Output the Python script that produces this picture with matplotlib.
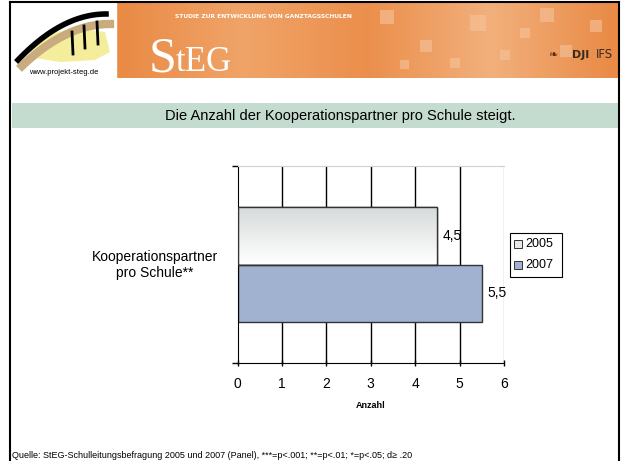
import numpy as np
import matplotlib
matplotlib.use("Agg")
import matplotlib.pyplot as plt
from matplotlib.colors import LinearSegmentedColormap
from matplotlib.patches import Rectangle, Polygon

# ---- data ----
category = "Kooperationspartner\npro Schule**"
years = ["2005", "2007"]
values = [4.5, 5.5]
value_labels = ["4,5", "5,5"]
xticks = [0, 1, 2, 3, 4, 5, 6]
title = "Die Anzahl der Kooperationspartner pro Schule steigt."
xlabel = "Anzahl"
source = "Quelle: StEG-Schulleitungsbefragung 2005 und 2007 (Panel), ***=p<.001; **=p<.01; *=p<.05; d\u2265 .20"

W, H = 626, 461
fig = plt.figure(figsize=(W / 100, H / 100), dpi=100)
fig.patch.set_facecolor("white")

# ---- overlay axes in pixel coordinates ----
ov = fig.add_axes([0, 0, 1, 1])
ov.set_xlim(0, W)
ov.set_ylim(H, 0)
ov.axis("off")

# slide border
ov.plot([10, 10], [2, H], color="black", lw=1.5)
ov.plot([619, 619], [2, H], color="black", lw=1.5)
ov.plot([10, 619], [2, 2], color="black", lw=1.5)

# header orange gradient
grad = np.linspace(0, 1, 200)[None, :]
orange = LinearSegmentedColormap.from_list("or", ["#e98a45", "#f0a468", "#eb8f4c", "#f2b07c", "#e98a45"])
ov.imshow(grad, extent=[116, 618, 78, 3], cmap=orange, aspect="auto", zorder=1)
rng_sq = [(380, 10, 14), (420, 40, 12), (470, 15, 16), (500, 50, 10), (540, 8, 14),
          (560, 45, 12), (450, 58, 10), (520, 28, 10), (590, 20, 12), (400, 60, 9)]
for (sx, sy, ss) in rng_sq:
    ov.add_patch(Rectangle((sx, sy), ss, ss, color="#f6c39a", alpha=0.6, zorder=2, lw=0))
ov.text(149, 71, "S", color="white", fontsize=36, family="Liberation Serif", zorder=3, va="baseline")
ov.text(176, 71, "tEG", color="white", fontsize=25, family="Liberation Serif", zorder=3, va="baseline")
ov.text(175, 17, "STUDIE ZUR ENTWICKLUNG VON GANZTAGSSCHULEN", color="white", fontsize=4.3,
        fontweight="bold", zorder=3, va="center")
ov.text(572, 55, "DJI", color="#3a2a20", fontsize=8, fontweight="bold", zorder=3, va="center")
ov.text(596, 55, "IFS", color="#3a2a20", fontsize=8.5, zorder=3, va="center")
ov.text(548, 55, "\u2767", color="#5a2a10", fontsize=8, zorder=3, va="center")

# logo area
ov.add_patch(Rectangle((12, 3), 104, 75, color="white", zorder=1))
blob = np.array([[30, 52], [45, 35], [75, 28], [105, 32], [110, 52], [95, 60], [60, 62], [35, 58]])
ov.add_patch(Polygon(blob, closed=True, facecolor="#f4ee9c", edgecolor="none", zorder=2))
t = np.linspace(0, 1, 60)
lx_ = 18 + 88 * t
ov.plot(lx_ + 4, 66 - 42 * (1 - (1 - t) ** 2), color="#c9ab7e", lw=6, zorder=3)
ov.plot(lx_, 60 - 46 * (1 - (1 - t) ** 2), color="black", lw=4, zorder=3)
for lx, ly in [(72, 32), (84, 26), (97, 22)]:
    ov.plot([lx, lx + 1], [ly, ly + 22], color="black", lw=2, zorder=4)
ov.text(64, 72, "www.projekt-steg.de", fontsize=5.5, ha="center", va="center", zorder=4,
        family="Liberation Sans")

# title band
ov.add_patch(Rectangle((12, 103), 606, 25, color="#c4dbd0", zorder=1, lw=0))
ov.text(340, 116, title, fontsize=10.5, ha="center", va="center", zorder=2,
        family="Liberation Sans")

# source
ov.text(12, 455, source, fontsize=6.5, ha="left", va="center", family="Liberation Sans")

# ---- chart axes ----
x0, x1 = 237.5, 504
y0, y1 = 166, 363
ax = fig.add_axes([x0 / W, 1 - y1 / H, (x1 - x0) / W, (y1 - y0) / H])
ax.set_facecolor("white")

bar_h = 0.58
ypos = [bar_h / 2, -bar_h / 2]
colors = ["#e6e9e9", "#a1b1d0"]

for x in xticks[1:-1]:
    ax.axvline(x, color="black", lw=1.0, zorder=0)
ax.axvline(6, color="#b0b0b0", lw=1.0, zorder=0)

bars = ax.barh(ypos, values, height=bar_h, color=colors, edgecolor="#333333", lw=1.0, zorder=2)
g = np.linspace(0, 1, 100)[:, None]
gcm = LinearSegmentedColormap.from_list("g", ["#d6dada", "#ffffff"])
im = ax.imshow(g, extent=[0, values[0], 0, bar_h], cmap=gcm, aspect="auto", zorder=2.5,
               origin="upper")
im.set_clip_path(bars[0])
ax.add_patch(Rectangle((0, 0), values[0], bar_h, fill=False, edgecolor="#333333", lw=1.0, zorder=3))

for yp, v, lab in zip(ypos, values, value_labels):
    ax.text(v + 0.12, yp, lab, fontsize=10, va="center", ha="left", family="Liberation Sans", zorder=4)

ax.set_xlim(0, 6)
ax.set_ylim(-1, 1)
ax.set_xticks(xticks)
ax.set_xticklabels([str(t) for t in xticks], fontsize=10, family="Liberation Sans")
ax.set_yticks([-1, 1])
ax.set_yticklabels([])
ax.tick_params(axis="y", length=4, width=1, direction="out", color="black")
ax.tick_params(axis="x", length=4, width=1, direction="inout", color="black", pad=8)
ax.set_xlabel(xlabel, fontsize=6.5, fontweight="bold", family="Liberation Sans", labelpad=7)
ax.spines["left"].set_color("black")
ax.spines["bottom"].set_color("black")
ax.spines["top"].set_color("#d0d0d0")
ax.spines["right"].set_visible(False)

ov.text(155, 265, category, fontsize=10, ha="center", va="center", family="Liberation Sans",
        linespacing=1.15)

# legend
ov.add_patch(Rectangle((510, 233), 52, 44, fill=False, edgecolor="black", lw=0.8, zorder=5))
for i, (yr, c) in enumerate(zip(years, colors)):
    yy = 244 + i * 21
    ov.add_patch(Rectangle((514, yy - 4), 8, 8, facecolor=c, edgecolor="#333333", lw=0.7, zorder=6))
    ov.text(525, yy, yr, fontsize=9, va="center", ha="left", family="Liberation Sans", zorder=6)

fig.savefig("out.png", dpi=100)
